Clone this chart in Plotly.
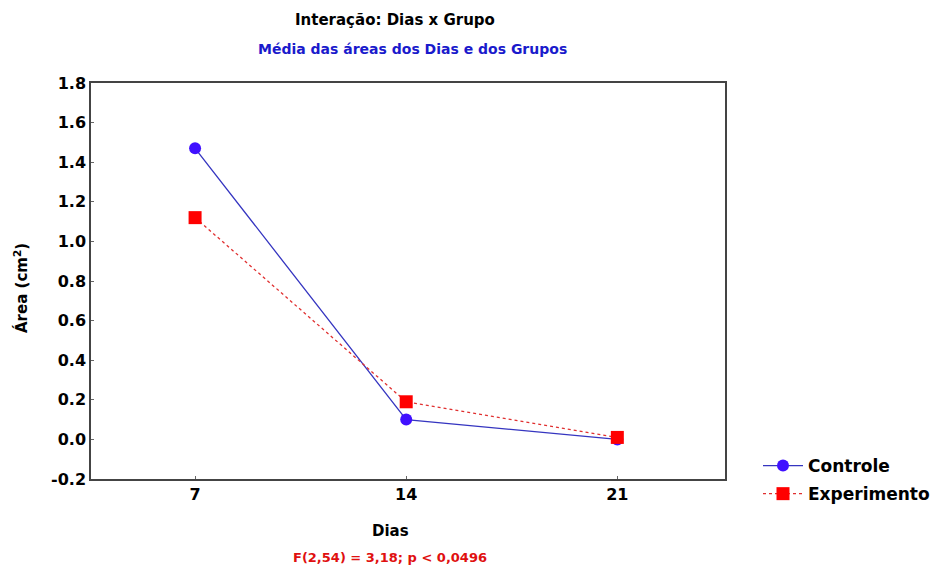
import plotly.graph_objects as go

dias = ["7", "14", "21"]
controle = [1.47, 0.10, 0.00]
experimento = [1.12, 0.19, 0.01]
y_ticks = [-0.2, 0.0, 0.2, 0.4, 0.6, 0.8, 1.0, 1.2, 1.4, 1.6, 1.8]
y_tick_labels = ["-0.2", "0.0", "0.2", "0.4", "0.6", "0.8", "1.0", "1.2", "1.4", "1.6", "1.8"]

FONT = "DejaVu Sans, Verdana, sans-serif"
L, R, T, B = 91, 725, 83, 479
PW, PH = R - L, B - T


def px(xp):
    return (xp - L) / PW


def py(yp):
    return (B - yp) / PH


fig = go.Figure()
fig.add_trace(go.Scatter(
    x=dias, y=controle, name="Controle", mode="lines+markers", legendgroup="c",
    line=dict(color="#3535c0", width=1.3),
    marker=dict(symbol="circle", size=12, color="#4010ff"),
))
fig.add_trace(go.Scatter(
    x=dias, y=experimento, name="Experimento", mode="lines+markers", legendgroup="e",
    line=dict(color="#e03030", width=1.3, dash="dot"),
    marker=dict(symbol="square", size=13, color="#ff0000"),
))

fig.update_layout(
    width=930, height=572,
    margin=dict(l=L, r=930 - R, t=T, b=572 - B, autoexpand=False),
    paper_bgcolor="white", plot_bgcolor="white",
    font=dict(family=FONT, size=14, color="black", weight="bold"),
    showlegend=True,
    legend=dict(x=px(758), xanchor="left", y=py(448), yanchor="top",
                font=dict(size=17, family=FONT, weight="bold"),
                itemwidth=40,
                bgcolor="rgba(0,0,0,0)", tracegroupgap=3),
    xaxis=dict(
        type="category", range=[-0.493, 2.51],
        showline=True, linecolor="#444", linewidth=1.5, mirror=True,
        ticks="inside", ticklen=3, tickcolor="#666",
        showgrid=False, zeroline=False,
        tickfont=dict(size=16, family=FONT, weight="bold"),
    ),
    yaxis=dict(
        range=[-0.2, 1.8], tickvals=y_ticks, ticktext=y_tick_labels,
        showline=True, linecolor="#444", linewidth=1.5, mirror=True,
        ticks="inside", ticklen=3, tickcolor="#666",
        showgrid=False, zeroline=False,
        tickfont=dict(size=16, family=FONT, weight="bold"),
    ),
    annotations=[
        dict(text="Interação: Dias x Grupo", xref="paper", yref="paper",
             x=px(395), y=py(20), xanchor="center", yanchor="middle",
             showarrow=False, font=dict(size=15, color="black", family=FONT, weight="bold")),
        dict(text="Média das áreas dos Dias e dos Grupos", xref="paper", yref="paper",
             x=px(412), y=py(49), xanchor="center", yanchor="middle",
             showarrow=False, font=dict(size=14, color="#1a1acc", family=FONT, weight="bold")),
        dict(text="Dias", xref="paper", yref="paper",
             x=px(390), y=py(531), xanchor="center", yanchor="middle",
             showarrow=False, font=dict(size=15, color="black", family=FONT, weight="bold")),
        dict(text="F(2,54) = 3,18; p < 0,0496", xref="paper", yref="paper",
             x=px(390), y=py(557), xanchor="center", yanchor="middle",
             showarrow=False, font=dict(size=13, color="#e01010", family=FONT, weight="bold")),
        dict(text="Área (cm<sup>2</sup>)", xref="paper", yref="paper",
             x=px(21), y=py(288), xanchor="center", yanchor="middle", textangle=-90,
             showarrow=False, font=dict(size=15, color="black", family=FONT, weight="bold")),
    ],
)

fig.write_html("out.html")
